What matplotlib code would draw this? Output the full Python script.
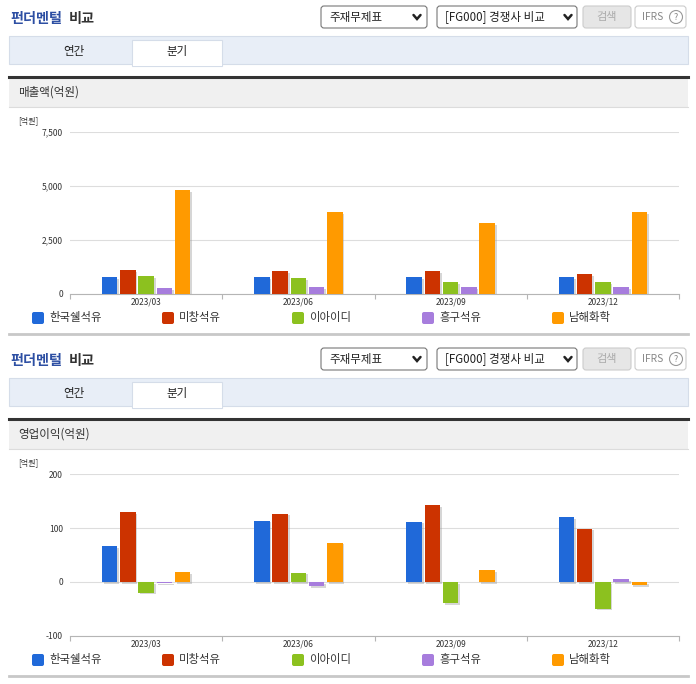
import matplotlib
matplotlib.use('Agg')
import matplotlib.pyplot as plt
import matplotlib.patheffects as pe
from matplotlib.patches import Rectangle, FancyBboxPatch, Circle

plt.rcParams['font.family'] = ['Noto Sans CJK KR', 'DejaVu Sans']

# 분기 / 회사
quarters = ['2023/03', '2023/06', '2023/09', '2023/12']
companies = ['한국쉘석유', '미창석유', '이아이디', '흥구석유', '남해화학']
colors = ['#2069d9', '#cc3300', '#8cc11f', '#a77ddd', '#ff9a00']

# 매출액(억원)
sales_hankook = [770, 770, 770, 770]
sales_michang = [1085, 1050, 1050, 910]
sales_eid = [820, 710, 525, 525]
sales_heungu = [250, 290, 290, 290]
sales_namhae = [4810, 3800, 3275, 3800]

# 영업이익(억원)
op_hankook = [67, 114, 112, 120]
op_michang = [129, 127, 142, 99]
op_eid = [-20, 17, -39, -50]
op_heungu = [-2, -8, 0, 5]
op_namhae = [18, 73, 21, -6]

W, H = 696, 684
fig = plt.figure(figsize=(W / 100, H / 100), dpi=100)

# 배경용 축 (픽셀 좌표, 위에서 아래로)
bg = fig.add_axes([0, 0, 1, 1], zorder=0)
bg.set_xlim(0, W)
bg.set_ylim(H, 0)
bg.axis('off')


def box(x0, y0, x1, y1, fc, ec, r=3, lw=0.8):
    bg.add_patch(FancyBboxPatch((x0, y0), x1 - x0, y1 - y0,
                                boxstyle='round,pad=0,rounding_size=%s' % r,
                                fc=fc, ec=ec, lw=lw))


def chevron(x, y):
    bg.plot([x - 3.5, x, x + 3.5], [y - 2, y + 2, y - 2], color='#222222',
            lw=1.8, solid_capstyle='round', solid_joinstyle='miter')


def draw_panel(oy, heading, series, ylim, yticks, yticklabels):
    # 제목
    bg.text(10, 19 + oy, '펀더멘털', color='#2d4fa3', fontsize=10.2,
            fontweight='bold', va='center', ha='left')
    bg.text(69, 19 + oy, '비교', color='#333333', fontsize=10.2,
            fontweight='bold', va='center', ha='left')

    # 선택 상자들
    box(321, 6 + oy, 427, 28 + oy, 'white', '#777777')
    bg.text(329, 17 + oy, '주재무제표', fontsize=8.3, va='center', color='#222222')
    chevron(417, 17 + oy)
    box(437, 6 + oy, 577, 28 + oy, 'white', '#777777')
    bg.text(445, 17 + oy, '[FG000] 경쟁사 비교', fontsize=8.3, va='center',
            color='#222222')
    chevron(568, 17 + oy)
    box(583, 6 + oy, 631, 28 + oy, '#e6e6e6', '#cccccc')
    bg.text(607, 17 + oy, '검색', fontsize=8, va='center', ha='center',
            color='#aaaaaa')
    box(635, 6 + oy, 686, 28 + oy, 'white', '#cccccc')
    bg.text(642, 17 + oy, 'IFRS', fontsize=7.4, va='center', color='#888888')
    bg.add_patch(Circle((676, 17 + oy), 6.5, fc='none', ec='#999999', lw=0.8))
    bg.text(676, 17.5 + oy, '?', fontsize=6.5, va='center', ha='center',
            color='#888888')

    # 탭
    bg.add_patch(Rectangle((9, 36 + oy), 679, 28, fc='#e8eef7', ec='#d5dde9',
                           lw=0.8))
    bg.add_patch(Rectangle((132, 40 + oy), 90, 26, fc='white', ec='#d5dde9',
                           lw=0.8))
    bg.add_patch(Rectangle((132.5, 63 + oy), 89, 3, fc='white', ec='none'))
    bg.text(74, 52 + oy, '연간', fontsize=8.3, va='center', ha='center',
            color='#222222')
    bg.text(177, 52 + oy, '분기', fontsize=8.3, va='center', ha='center',
            color='#222222')

    # 항목 머리줄
    bg.add_patch(Rectangle((9, 77 + oy), 679, 30, fc='#f0f0f0', ec='none'))
    bg.plot([9, 688], [76.5 + oy, 76.5 + oy], color='#333333', lw=2.2)
    bg.plot([9, 688], [107 + oy, 107 + oy], color='#dcdcdc', lw=0.8)
    bg.text(18, 92 + oy, heading, fontsize=8.3, va='center', color='#333333')
    bg.text(18, 121 + oy, '[억원]', fontsize=5.8, va='center', color='#333333')

    # 차트
    top, bottom = 132.3 + oy, 293.5 + oy
    ax = fig.add_axes([70 / W, 1 - bottom / H, (679 - 70) / W, (bottom - top) / H],
                      zorder=1)
    ax.set_facecolor('none')
    for k, (vals, c) in enumerate(zip(series, colors)):
        xs = [i + 0.5 + (k - 2) * 0.12 for i in range(len(quarters))]
        bars = ax.bar(xs, vals, width=0.102, color=c, zorder=3)
        for b in bars:
            b.set_path_effects([pe.SimplePatchShadow(offset=(1.3, -1.3),
                                                     shadow_rgbFace='#999999',
                                                     alpha=0.4),
                                pe.Normal()])
    ax.set_xlim(0, len(quarters))
    ax.set_ylim(*ylim)
    ax.set_yticks(yticks)
    ax.set_yticklabels(yticklabels)
    ax.yaxis.grid(True, color='#dddddd', lw=0.8, zorder=0)
    ax.set_axisbelow(True)
    for s in ['top', 'right', 'left']:
        ax.spines[s].set_visible(False)
    ax.spines['bottom'].set_color('#b5b5b5')
    ax.spines['bottom'].set_linewidth(0.8)
    ax.tick_params(axis='y', length=0, pad=5, labelsize=6.1, labelcolor='#333333')
    ax.set_xticks(range(len(quarters) + 1))
    ax.set_xticklabels([])
    ax.tick_params(axis='x', which='major', length=3.5, color='#b5b5b5', width=0.8)
    ax.set_xticks([i + 0.5 for i in range(len(quarters))], minor=True)
    ax.set_xticklabels(quarters, minor=True)
    ax.tick_params(axis='x', which='minor', length=0, pad=3, labelsize=6,
                   labelcolor='#333333')

    # 범례
    for k, (name, c) in enumerate(zip(companies, colors)):
        x = 32 + k * 130
        bg.add_patch(FancyBboxPatch((x, 312 + oy), 12, 12,
                                    boxstyle='round,pad=0,rounding_size=2',
                                    fc=c, ec='none'))
        bg.text(x + 17, 318 + oy, name, fontsize=8.2, va='center',
                color='#333333')

    bg.plot([9, 688], [333.5 + oy, 333.5 + oy], color='#c8c8c8', lw=2)


draw_panel(0, '매출액(억원)',
           [sales_hankook, sales_michang, sales_eid, sales_heungu, sales_namhae],
           (0, 7500), [0, 2500, 5000, 7500], ['0', '2,500', '5,000', '7,500'])
draw_panel(342, '영업이익(억원)',
           [op_hankook, op_michang, op_eid, op_heungu, op_namhae],
           (-100, 200), [-100, 0, 100, 200], ['-100', '0', '100', '200'])

fig.savefig('out.png', dpi=100)
